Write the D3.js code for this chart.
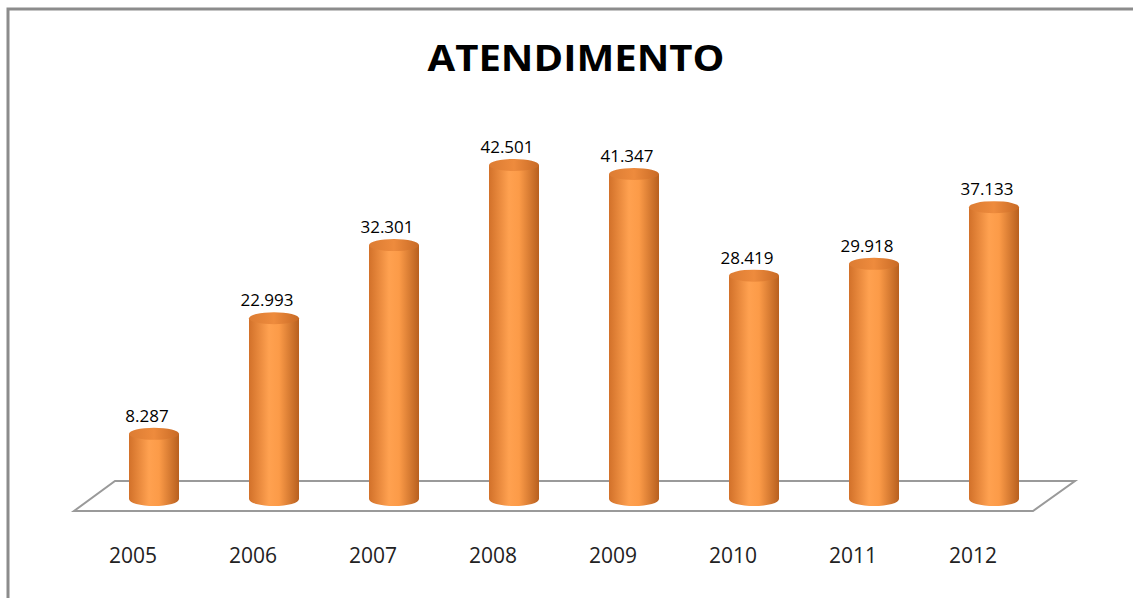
<!DOCTYPE html>
<html>
<head>
<meta charset="utf-8">
<script src="https://cdn.jsdelivr.net/npm/d3@7.9.0/dist/d3.min.js"></script>
<style>
  html, body { margin: 0; padding: 0; background: #fff; }
  svg { display: block; font-family: 'Open Sans', 'Liberation Sans', sans-serif; }
</style>
</head>
<body>
<div id="chart"></div>
<script>
// data
const years = ['2005', '2006', '2007', '2008', '2009', '2010', '2011', '2012'];
const atendimentos = [8287, 22993, 32301, 42501, 41347, 28419, 29918, 37133];
const valueLabels = ['8.287', '22.993', '32.301', '42.501', '41.347', '28.419', '29.918', '37.133'];
const title = 'ATENDIMENTO';

const width = 1133;
const height = 598;

const svg = d3.select('#chart')
  .append('svg')
  .attr('width', width)
  .attr('height', height);

const defs = svg.append('defs');

const body = defs.append('linearGradient').attr('id', 'cyl').attr('x1', 0).attr('x2', 1).attr('y1', 0).attr('y2', 0);
body.append('stop').attr('offset', '0%').attr('stop-color', '#d2712a');
body.append('stop').attr('offset', '40%').attr('stop-color', '#ffa150');
body.append('stop').attr('offset', '60%').attr('stop-color', '#fc9b48');
body.append('stop').attr('offset', '100%').attr('stop-color', '#b8601f');

const cap = defs.append('linearGradient').attr('id', 'cap').attr('x1', 0).attr('x2', 1).attr('y1', 0).attr('y2', 0);
cap.append('stop').attr('offset', '0%').attr('stop-color', '#dc7c33');
cap.append('stop').attr('offset', '50%').attr('stop-color', '#ee8b3d');
cap.append('stop').attr('offset', '100%').attr('stop-color', '#c86a25');

// frame (only top and left edges show)
svg.append('path')
  .attr('d', `M8,${height} L8,9 L${width},9`)
  .attr('fill', 'none')
  .attr('stroke', '#8c8c8c')
  .attr('stroke-width', 3);

// title
svg.append('text')
  .attr('x', 576)
  .attr('y', 71)
  .attr('text-anchor', 'middle')
  .attr('font-size', 36)
  .attr('font-weight', 'bold')
  .attr('fill', '#000')
  .attr('textLength', 297)
  .attr('lengthAdjust', 'spacingAndGlyphs')
  .text(title);

// scales
const x = d3.scaleBand().domain(years).range([94, 1054]);
const y = d3.scaleLinear().domain([0, 50000]).range([499, 106]);

const rx = 25;
const ry = 6;

// floor
const floorBack = 481, floorFront = 511;
svg.append('path')
  .attr('d', `M${x.range()[0] + 21},${floorBack} L${x.range()[1] + 21},${floorBack} L${x.range()[1] - 21},${floorFront} L${x.range()[0] - 20},${floorFront} Z`)
  .attr('fill', '#fff')
  .attr('stroke', '#9a9a9a')
  .attr('stroke-width', 2);

const data = years.map((yr, i) => ({ year: yr, value: atendimentos[i], label: valueLabels[i] }));

const bars = svg.append('g').selectAll('g').data(data).join('g');

bars.append('path')
  .attr('d', d => {
    const cx = x(d.year) + x.bandwidth() / 2;
    const yt = y(d.value), yb = y(0);
    return `M${cx - rx},${yt} L${cx - rx},${yb} A${rx},${ry + 1} 0 0 0 ${cx + rx},${yb} L${cx + rx},${yt} Z`;
  })
  .attr('fill', 'url(#cyl)');

bars.append('ellipse')
  .attr('cx', d => x(d.year) + x.bandwidth() / 2)
  .attr('cy', d => y(d.value))
  .attr('rx', rx)
  .attr('ry', ry)
  .attr('fill', 'url(#cap)');

// value labels
bars.append('text')
  .attr('x', d => x(d.year) + x.bandwidth() / 2 - 7)
  .attr('y', d => y(d.value) - 12)
  .attr('text-anchor', 'middle')
  .attr('font-size', 17)
  .attr('fill', '#000')
  .text(d => d.label);

// category labels
svg.append('g').selectAll('text').data(years).join('text')
  .attr('x', d => x(d) + x.bandwidth() / 2 - 21)
  .attr('y', 563)
  .attr('text-anchor', 'middle')
  .attr('font-size', 21)
  .attr('fill', '#222')
  .text(d => d);
</script>
</body>
</html>
